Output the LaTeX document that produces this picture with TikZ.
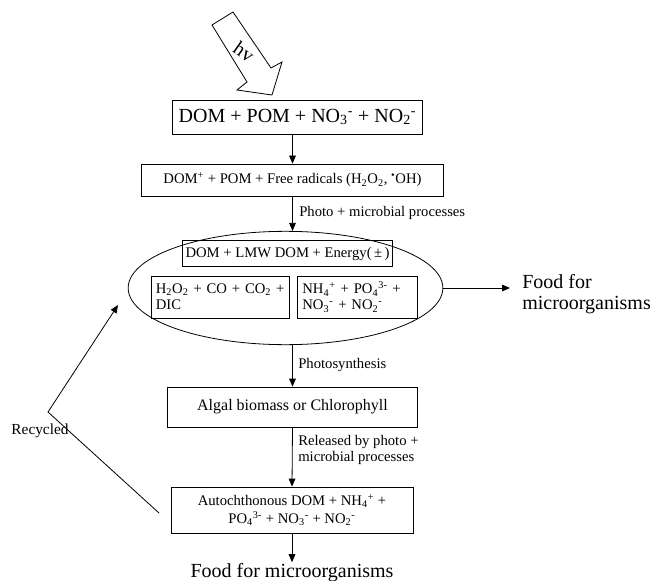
\documentclass[tikz,border=0pt]{standalone}
\usepackage{fontspec}
\setmainfont{Liberation Serif}
\usepackage{tikz}
\usetikzlibrary{arrows.meta, positioning, calc, shapes.geometric}

\newcommand{\subs}[1]{\textsubscript{#1}}
\newcommand{\sups}[1]{\textsuperscript{#1}}

\begin{document}
\begin{tikzpicture}[x=0.75pt, y=-0.75pt,
        box/.style={draw, line width=0.6pt, inner sep=2pt, align=center},
        big/.style={font=\fontsize{15}{16}\selectfont},
        mid/.style={font=\fontsize{12}{14}\selectfont},
        small/.style={font=\fontsize{11}{12.5}\selectfont},
        flow/.style={-{Triangle[length=6pt, width=5pt]}, line width=0.6pt},
        lbl/.style={small, anchor=west, inner sep=0pt, align=left}]
    \useasboundingbox (0,0) rectangle (653,581);

    % incoming light
    \draw[line width=0.6pt] (212,25) -- (247,82) -- (237,90) -- (272,95)
        -- (282,62) -- (271,68) -- (233,12) -- cycle;
    \node[big, rotate=-35] (hv) at (244,52) {hv};

    % main chain
    \node[box, big, minimum width=188pt, minimum height=25.5pt] (dom) at (297.5,117)
        {DOM + POM + NO\subs{3}\sups{-} + NO\subs{2}\sups{-}};
    \node[box, small, minimum width=226pt, minimum height=24pt] (radicals) at (292.5,180)
        {DOM\sups{+} + POM + Free radicals (H\subs{2}O\subs{2}, \sups{\textbullet}OH)};
    \node[draw, ellipse, line width=0.6pt, minimum width=236pt, minimum height=85pt,
        inner sep=0pt] (pool) at (285.5,288) {};
    \node[box, small, minimum width=158pt, minimum height=19pt] (lmw) at (287.5,253.5)
        {DOM + LMW DOM + Energy(\,±\,)};
    \node[box, align=left, text width=97pt, inner xsep=3pt, minimum height=31.5pt,
        font=\fontsize{11}{12}\selectfont] (gases) at (220.5,297)
        {H\subs{2}O\subs{2} + CO + CO\subs{2} +\\DIC};
    \node[box, align=left, text width=82pt, inner xsep=4pt, minimum height=31.5pt,
        font=\fontsize{11}{12}\selectfont] (nutrients) at (357,297)
        {NH\subs{4}\sups{+} + PO\subs{4}\sups{3-} +\\NO\subs{3}\sups{-} + NO\subs{2}\sups{-}};
    \node[box, mid, minimum width=187pt, minimum height=30pt] (algal) at (292.5,407)
        {Algal biomass or Chlorophyll};
    \node[box, minimum width=181.5pt, minimum height=34.5pt,
        font=\fontsize{11}{13.5}\selectfont] (autoch) at (292,510)
        {Autochthonous DOM + NH\subs{4}\sups{+} +\\PO\subs{4}\sups{3-} + NO\subs{3}\sups{-} + NO\subs{2}\sups{-}};

    % food
    \node[big, anchor=west, inner sep=0pt, align=left] (food1) at (522,294)
        {Food for\\microorganisms};
    \node[big, inner sep=1pt] (food2) at (292,573) {Food for microorganisms};

    % labels
    \node[lbl] (photomic) at (299,213) {Photo + microbial processes};
    \node[lbl] (photosyn) at (298,365) {Photosynthesis};
    \node[lbl] (released) at (298,450) {Released by photo +\\microbial processes};
    \node[small, font=\fontsize{11.5}{13}\selectfont] (recycled) at (40,431) {Recycled};

    % connectors
    \draw[flow] (dom.south -| radicals.north) -- (radicals.north);
    \draw[flow] (radicals.south) -- (radicals.south |- pool.north);
    \draw[flow] (algal.north |- pool.south) -- (algal.north);
    \draw[flow] (algal.south) -- (autoch.north);
    \draw[flow] (autoch.south) -- (food2.north);
    \draw[flow] (pool.east) -- ($(pool.east -| food1.west)+(-12,0)$);

    \coordinate (rstart) at (159,513);
    \coordinate (rbend) at (48,412);
    \coordinate (rtip) at (118,305);
    \draw[flow] (rstart) -- (rbend) -- (rtip);
\end{tikzpicture}
\end{document}
